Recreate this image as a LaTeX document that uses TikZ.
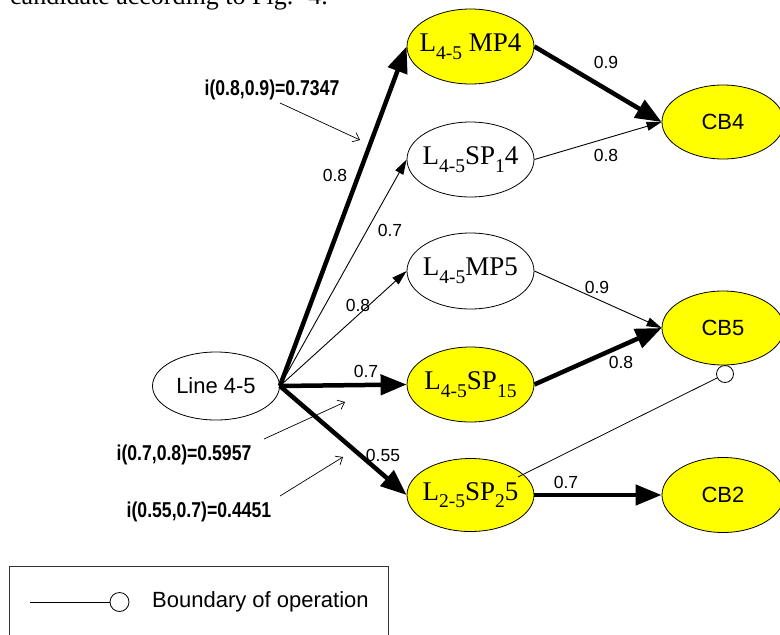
\documentclass[tikz,border=0pt]{standalone}
\usepackage{fontspec}
\setmainfont{Liberation Serif}
\setsansfont{Liberation Sans}
\newfontfamily\annotfont[FakeStretch=0.82]{Liberation Sans}
\usetikzlibrary{arrows.meta,shapes.geometric}

\definecolor{cbyellow}{RGB}{255,255,0}
% lowered subscript used in the line/protection labels
\newcommand\lsub[1]{\raisebox{-0.28em}{\fontsize{19.5}{19.5}\selectfont #1}}
% centred text that does not widen its ellipse
\newcommand\ct[1]{\makebox[0pt]{#1}}

\begin{document}
\begin{tikzpicture}[x=1pt,y=-1pt,
  ell/.style={ellipse, draw, line width=0.8pt, inner sep=0pt},
  yel/.style={fill=cbyellow},
  rmlab/.style={font=\fontsize{27}{32}\selectfont},
  sflab/.style={font=\sffamily\fontsize{22}{26}\selectfont},
  wlab/.style={font=\sffamily\fontsize{17.5}{20}\selectfont, inner sep=0pt},
  note/.style={font=\annotfont\bfseries\fontsize{21.5}{25}\selectfont, inner sep=0pt},
  thickarrow/.style={line width=4.5pt, -{Triangle[length=26pt,width=20pt]}},
  thinarrow/.style={line width=0.9pt, -{Triangle[length=15pt,width=9pt]}},
  notearrow/.style={line width=0.7pt, -{Straight Barb[length=6pt,width=10pt]}},
  plainline/.style={line width=0.8pt},
]
\useasboundingbox (0,0) rectangle (780,635);
\clip (0,0) rectangle (780,635);

% running text above the figure
\node[anchor=base west, inner sep=0pt, font=\fontsize{26}{30}\selectfont] (caption) at (10,4) {candidate according to Fig.~ 4.};

% nodes
\node[ell, sflab, minimum width=127pt, minimum height=68pt] (line45) at (216,386) {\ct{Line 4-5}};
\node[ell, yel, rmlab, minimum width=127pt, minimum height=75pt] (mp4) at (470.5,46.5) {\ct{L\lsub{4-5} MP4}};
\node[ell, rmlab, minimum width=127pt, minimum height=75pt] (sp14) at (470.5,159.5) {\ct{L\lsub{4-5}SP\lsub{1}4}};
\node[ell, rmlab, minimum width=127pt, minimum height=76pt] (mp5) at (470.5,271) {\ct{L\lsub{4-5}MP5}};
\node[ell, yel, rmlab, minimum width=127pt, minimum height=75pt] (sp15) at (470.5,384.5) {\ct{L\lsub{4-5}SP\lsub{15}}};
\node[ell, yel, rmlab, minimum width=127pt, minimum height=73pt] (sp25) at (470.5,495) {\ct{L\lsub{2-5}SP\lsub{2}5}};
\node[ell, yel, sflab, minimum width=122pt, minimum height=74pt] (cb4) at (723,122) {\ct{CB4}};
\node[ell, yel, sflab, minimum width=122pt, minimum height=74pt] (cb5) at (723,328) {\ct{CB5}};
\node[ell, yel, sflab, minimum width=122pt, minimum height=75pt] (cb2) at (723,495) {\ct{CB2}};

% edges from Line 4-5
\draw[thickarrow] (line45.east) -- (mp4.west);
\draw[thinarrow] (line45.east) -- (sp14.west);
\draw[thinarrow] (line45.east) -- (mp5.west);
\draw[thickarrow] (line45.east) -- (sp15.west);
\draw[thickarrow] (line45.east) -- (sp25.west);

% edges to the breakers
\draw[thickarrow] (mp4.east) -- (cb4.west);
\draw[thinarrow] (sp14.east) -- (cb4.west);
\draw[thinarrow] (mp5.east) -- (cb5.west);
\draw[thickarrow] (sp15.east) -- (cb5.west);
\draw[thickarrow] (sp25.east) -- (cb2.west);

% edge weights
\node[wlab] (w1) at (335,175) {0.8};
\node[wlab] (w2) at (390,230) {0.7};
\node[wlab] (w3) at (358,305) {0.8};
\node[wlab] (w4) at (366,371) {0.7};
\node[wlab] (w5) at (383,455) {0.55};
\node[wlab] (w6) at (606,62) {0.9};
\node[wlab] (w7) at (606,155) {0.8};
\node[wlab] (w8) at (597,287) {0.9};
\node[wlab] (w9) at (621,362) {0.8};
\node[wlab] (w10) at (566,482) {0.7};

% boundary of operation between L2-5SP25 and CB5
\node[circle, draw, line width=0.8pt, minimum size=17pt, inner sep=0pt] (bnd) at (725,374) {};
\coordinate (bndfoot) at (518,477);
\draw[plainline] (bndfoot) -- (bnd);

% importance annotations
\node[note] (i1) at (272,90) {i(0.8,0.9)=0.7347};
\node[note] (i2) at (184,455) {i(0.7,0.8)=0.5957};
\node[note] (i3) at (199,512) {i(0.55,0.7)=0.4451};
\coordinate (n1s) at (280,103); \coordinate (n1e) at (360,140);
\coordinate (n2s) at (264,439); \coordinate (n2e) at (345,402);
\coordinate (n3s) at (280,496); \coordinate (n3e) at (343,457);
\draw[notearrow] (n1s) -- (n1e);
\draw[notearrow] (n2s) -- (n2e);
\draw[notearrow] (n3s) -- (n3e);

% legend
\draw[line width=1pt, black!80] (9,566) rectangle (388,660);
\node[circle, draw, line width=0.8pt, minimum size=19pt, inner sep=0pt] (lgc) at (119.5,602) {};
\coordinate (lgs) at (30,602);
\draw[plainline] (lgs) -- (lgc);
\node[anchor=west, inner sep=0pt, font=\sffamily\fontsize{22}{26}\selectfont] (lgt) at (152,602) {Boundary of operation};
\end{tikzpicture}
\end{document}
